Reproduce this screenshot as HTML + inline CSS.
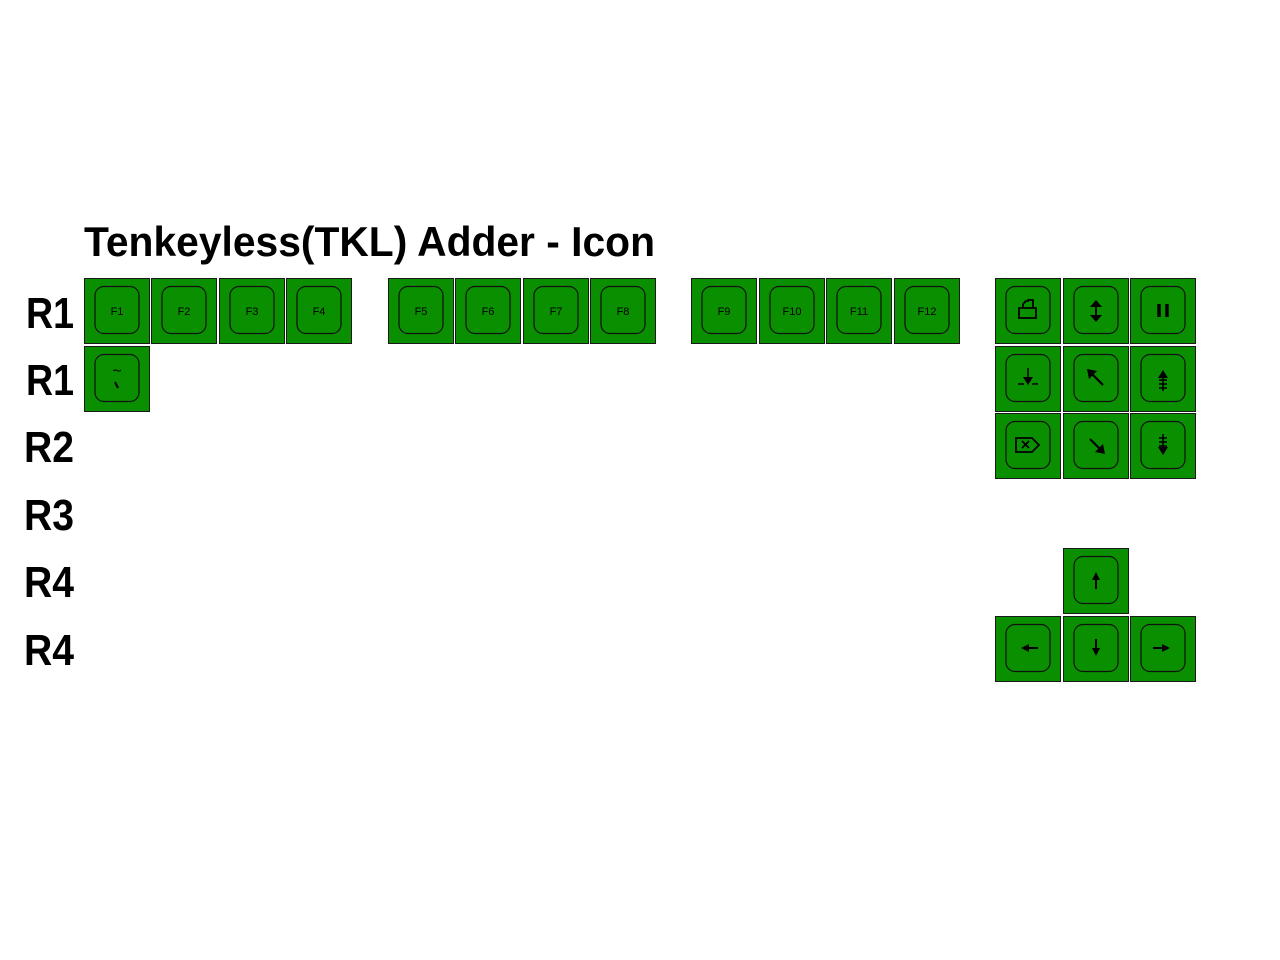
<!DOCTYPE html>
<html><head><meta charset="utf-8"><style>html,body{margin:0;padding:0;background:#fff;}svg{display:block}</style></head>
<body>
<svg width="1280" height="960" viewBox="0 0 1280 960" xmlns="http://www.w3.org/2000/svg">
<defs>
<g id="k">
<rect x="0.5" y="0.5" width="65" height="65" fill="#0a8f00" stroke="#1a1a1a" stroke-width="1"/>
<rect x="11" y="8.5" width="44" height="47" rx="9" fill="none" stroke="#111" stroke-width="1.2"/>
</g>
</defs>
<g font-family="Liberation Sans, sans-serif" font-weight="bold" fill="#000">
<text x="84" y="256" font-size="42" textLength="571" lengthAdjust="spacingAndGlyphs">Tenkeyless(TKL) Adder - Icon</text>
<text x="26" y="328" font-size="44" textLength="48" lengthAdjust="spacingAndGlyphs">R1</text>
<text x="26" y="395" font-size="44" textLength="48" lengthAdjust="spacingAndGlyphs">R1</text>
<text x="24" y="462" font-size="44" textLength="50" lengthAdjust="spacingAndGlyphs">R2</text>
<text x="24" y="530" font-size="44" textLength="50" lengthAdjust="spacingAndGlyphs">R3</text>
<text x="24" y="597" font-size="44" textLength="50" lengthAdjust="spacingAndGlyphs">R4</text>
<text x="24" y="665" font-size="44" textLength="50" lengthAdjust="spacingAndGlyphs">R4</text>
</g>
<g font-family="Liberation Sans, sans-serif" font-size="11" text-anchor="middle" fill="#000">
<g transform="translate(84,278)"><use href="#k"/><text x="33" y="37">F1</text></g>
<g transform="translate(151,278)"><use href="#k"/><text x="33" y="37">F2</text></g>
<g transform="translate(219,278)"><use href="#k"/><text x="33" y="37">F3</text></g>
<g transform="translate(286,278)"><use href="#k"/><text x="33" y="37">F4</text></g>
<g transform="translate(388,278)"><use href="#k"/><text x="33" y="37">F5</text></g>
<g transform="translate(455,278)"><use href="#k"/><text x="33" y="37">F6</text></g>
<g transform="translate(523,278)"><use href="#k"/><text x="33" y="37">F7</text></g>
<g transform="translate(590,278)"><use href="#k"/><text x="33" y="37">F8</text></g>
<g transform="translate(691,278)"><use href="#k"/><text x="33" y="37">F9</text></g>
<g transform="translate(759,278)"><use href="#k"/><text x="33" y="37">F10</text></g>
<g transform="translate(826,278)"><use href="#k"/><text x="33" y="37">F11</text></g>
<g transform="translate(894,278)"><use href="#k"/><text x="33" y="37">F12</text></g>
<g transform="translate(84,346)"><use href="#k"/><text x="33" y="30" font-size="16">~</text><path d="M31 36 L34 42" stroke="#000" stroke-width="2"/></g>
</g>
<g stroke="#000" fill="none" stroke-width="2">
<g transform="translate(995,278)"><use href="#k"/><path d="M24 30 h17 v10 h-17 z M28 30 v-4 l3 -3 h2 v-1 h5 v8" stroke-width="1.8"/></g>
<g transform="translate(1063,278)"><use href="#k"/><path d="M33 27 v12"/><path d="M27 29 l6 -7 l6 7 z M27 37 l6 7 l6 -7 z" fill="#000" stroke="none"/></g>
<g transform="translate(1130,278)"><use href="#k"/><path d="M29 26 v13 M37 26 v13" stroke-width="3.5"/></g>
<g transform="translate(995,346)"><use href="#k"/><path d="M33 22 v10 M23 38 h6 M37 38 h6" stroke-width="1.5"/><path d="M28 31 l5 8 l5 -8 z" fill="#000" stroke="none"/></g>
<g transform="translate(1063,346)"><use href="#k"/><path d="M28 27 l12 12" stroke-width="2.2"/><path d="M24 23 l10 2 l-8 8 z" fill="#000" stroke="none"/></g>
<g transform="translate(1130,346)"><use href="#k"/><path d="M33 29 v16 M29 34 h8 M29 38 h8 M29 42 h8" stroke-width="1.6"/><path d="M28 32 l5 -8 l5 8 z" fill="#000" stroke="none"/></g>
<g transform="translate(995,413)"><use href="#k"/><path d="M21 25 h16 l7 7 l-7 7 h-16 z M27 28 l7 7 M34 28 l-7 7" stroke-width="1.8"/></g>
<g transform="translate(1063,413)"><use href="#k"/><path d="M27 26 l11 11" stroke-width="2.2"/><path d="M42 41 l-10 -2 l8 -8 z" fill="#000" stroke="none"/></g>
<g transform="translate(1130,413)"><use href="#k"/><path d="M33 21 v15 M29 25 h8 M29 29 h8 M29 33 h8" stroke-width="1.6"/><path d="M28 34 l5 8 l5 -8 z" fill="#000" stroke="none"/></g>
<g transform="translate(1063,548)"><use href="#k"/><path d="M33 30 v11"/><path d="M29 32 l4 -8 l4 8 z" fill="#000" stroke="none"/></g>
<g transform="translate(995,616)"><use href="#k"/><path d="M32 32 h11"/><path d="M34 28 l-8 4 l8 4 z" fill="#000" stroke="none"/></g>
<g transform="translate(1063,616)"><use href="#k"/><path d="M33 23 v11"/><path d="M29 32 l4 8 l4 -8 z" fill="#000" stroke="none"/></g>
<g transform="translate(1130,616)"><use href="#k"/><path d="M23 32 h11"/><path d="M32 28 l8 4 l-8 4 z" fill="#000" stroke="none"/></g>
</g>
</svg>
</body></html>
